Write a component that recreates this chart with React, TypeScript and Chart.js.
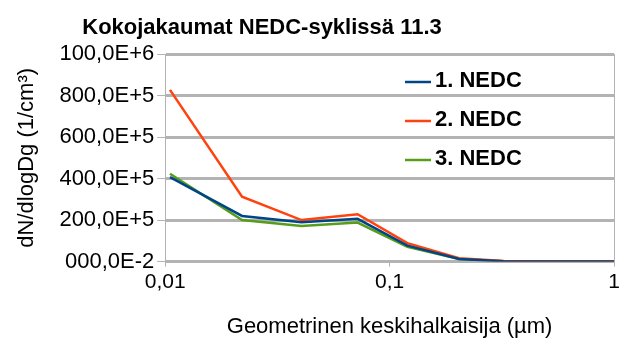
import React, { useEffect, useRef } from "react";
import { Chart, registerables } from "chart.js";

Chart.register(...registerables);

const diameters = [0.0105, 0.022, 0.0405, 0.072, 0.12, 0.204, 0.322, 0.53, 1.0];
const seriesNames = ["1. NEDC", "2. NEDC", "3. NEDC"];
const nedc1 = [40700000, 22000000, 19000000, 20600000, 7700000, 1300000, 200000, 30000, 0];
const nedc2 = [82700000, 31300000, 20000000, 22800000, 8900000, 1600000, 250000, 40000, 0];
const nedc3 = [42300000, 20000000, 17200000, 18800000, 7100000, 1200000, 200000, 30000, 0];
const seriesColors = ["#004586", "#ff420e", "#579d1c"];
const xTicks = [0.01, 0.1, 1];
const xTickLabels = ["0,01", "0,1", "1"];
const yTickLabels = ["000,0E-2", "200,0E+5", "400,0E+5", "600,0E+5", "800,0E+5", "100,0E+6"];
const chartTitle = "Kokojakaumat NEDC-syklissä 11.3";

const FONT = "'Liberation Sans', Arial, sans-serif";

const decorPlugin = {
  id: "decor",
  afterDraw(chart: any) {
    const { ctx, chartArea } = chart;
    ctx.save();
    // title
    ctx.font = `bold 22px ${FONT}`;
    ctx.fillStyle = "#000";
    ctx.textAlign = "center";
    ctx.textBaseline = "alphabetic";
    ctx.fillText(chartTitle, 262, 34);
    // legend
    ctx.textBaseline = "middle";
    ctx.textAlign = "left";
    chart.data.datasets.forEach((ds: any, i: number) => {
      const y = chartArea.top + 28 + i * 39;
      const x0 = chartArea.right - 209;
      ctx.strokeStyle = ds.borderColor;
      ctx.lineWidth = 2.5;
      ctx.beginPath();
      ctx.moveTo(x0, y);
      ctx.lineTo(x0 + 26, y);
      ctx.stroke();
      ctx.fillStyle = "#000";
      ctx.fillText(ds.label, x0 + 30, y - 1);
    });
    ctx.restore();
  },
};

export default function App() {
  const ref = useRef<HTMLCanvasElement>(null);
  useEffect(() => {
    document.body.style.margin = "0";
    const data = [nedc1, nedc2, nedc3];
    const chart = new Chart(ref.current!, {
      type: "line",
      data: {
        datasets: seriesNames.map((name, i) => ({
          label: name,
          data: diameters.map((d, j) => ({ x: d, y: data[i][j] })),
          borderColor: seriesColors[i],
          backgroundColor: seriesColors[i],
          borderWidth: 2.5,
          pointRadius: 0,
          tension: 0,
        })),
      },
      options: {
        animation: false,
        responsive: false,
        layout: { padding: { left: 0, right: 17, top: 54, bottom: 0 } },
        plugins: {
          legend: { display: false },
          tooltip: { enabled: false },
          title: { display: false },
        },
        scales: {
          x: {
            type: "logarithmic",
            min: 0.01,
            max: 1,
            afterBuildTicks: (scale: any) => {
              scale.ticks = xTicks.map((v) => ({ value: v }));
            },
            ticks: {
              color: "#000",
              font: { family: FONT, size: 21 },
              padding: 3.4,
              maxRotation: 0,
              autoSkip: false,
              callback: (_v: any, i: number) => xTickLabels[i],
            },
            grid: {
              color: (c: any) => (c.tick && c.tick.value === 1 ? "#b3b3b3" : "rgba(0,0,0,0)"),
              tickColor: "#b3b3b3",
              tickLength: 5,
              lineWidth: 1,
            },
            border: { display: false },
            title: {
              display: true,
              text: "Geometrinen keskihalkaisija (µm)",
              color: "#000",
              font: { family: FONT, size: 22 },
              padding: { top: 15, bottom: 7 },
            },
          },
          y: {
            min: 0,
            max: 100000000,
            ticks: {
              stepSize: 20000000,
              color: "#000",
              font: { family: FONT, size: 22 },
              padding: 3,
              callback: (_v: any, i: number) => yTickLabels[i],
            },
            grid: {
              color: "#b3b3b3",
              lineWidth: 3,
              tickColor: "#b3b3b3",
              tickWidth: 1,
              tickLength: 8,
            },
            border: { display: true, color: "#b3b3b3", width: 1 },
            title: {
              display: true,
              text: "dN/dlogDg (1/cm³)",
              color: "#000",
              font: { family: FONT, size: 22 },
              padding: { top: 14, bottom: 16 },
            },
          },
        },
      },
      plugins: [decorPlugin],
    } as any);
    return () => chart.destroy();
  }, []);
  return (
    <div style={{ width: 631, height: 347 }}>
      <canvas ref={ref} width={631} height={347} style={{ display: "block" }} />
    </div>
  );
}
